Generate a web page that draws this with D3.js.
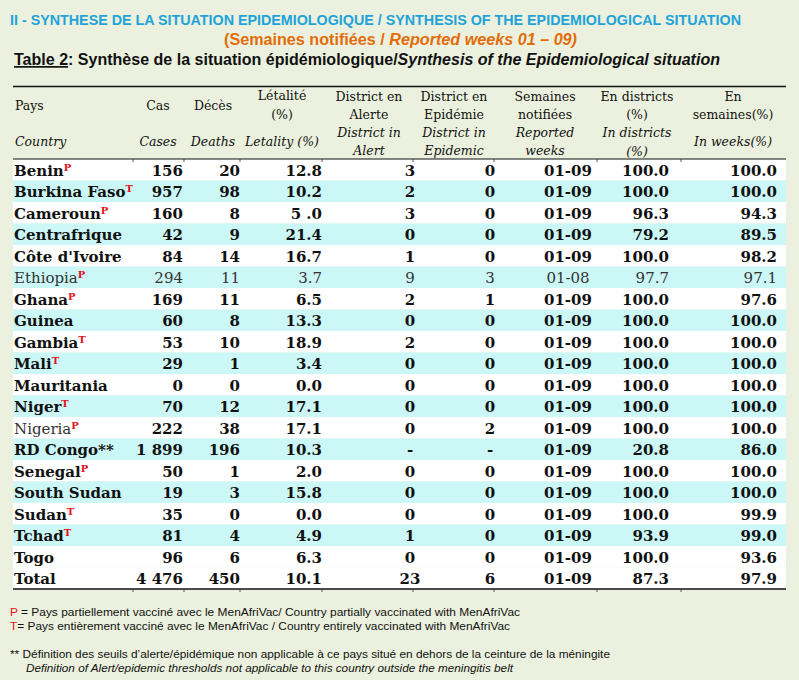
<!DOCTYPE html>
<html>
<head>
<meta charset="utf-8">
<script src="https://cdn.jsdelivr.net/npm/d3@7"></script>
<style>
  body { margin: 0; background: #ebf1de; }
  svg { display: block; }
</style>
</head>
<body>
<div id="container"></div>
<script>
// table data
var countries = ["Benin", "Burkina Faso", "Cameroun", "Centrafrique", "Côte d'Ivoire", "Ethiopia", "Ghana", "Guinea",
  "Gambia", "Mali", "Mauritania", "Niger", "Nigeria", "RD Congo", "Senegal", "South Sudan", "Sudan", "Tchad", "Togo", "Total"];
var marks = ["P", "T", "P", "", "", "P", "P", "", "T", "T", "", "T", "P", "**", "P", "", "T", "T", "", ""];
var cases = [156, 957, 160, 42, 84, 294, 169, 60, 53, 29, 0, 70, 222, 1899, 50, 19, 35, 81, 96, 4476];
var deaths = [20, 98, 8, 9, 14, 11, 11, 8, 10, 1, 0, 12, 38, 196, 1, 3, 0, 4, 6, 450];
var letality = ["12.8", "10.2", "5 .0", "21.4", "16.7", "3.7", "6.5", "13.3", "18.9", "3.4", "0.0", "17.1", "17.1", "10.3", "2.0", "15.8", "0.0", "4.9", "6.3", "10.1"];
var alertDistricts = ["3", "2", "3", "0", "1", "9", "2", "0", "2", "0", "0", "0", "0", "-", "0", "0", "0", "1", "0", "23"];
var epidemicDistricts = ["0", "0", "0", "0", "0", "3", "1", "0", "0", "0", "0", "0", "2", "-", "0", "0", "0", "0", "0", "6"];
var weeks = ["01-09", "01-09", "01-09", "01-09", "01-09", "01-08", "01-09", "01-09", "01-09", "01-09", "01-09", "01-09", "01-09", "01-09", "01-09", "01-09", "01-09", "01-09", "01-09", "01-09"];
var pctDistricts = [100.0, 100.0, 96.3, 79.2, 100.0, 97.7, 100.0, 100.0, 100.0, 100.0, 100.0, 100.0, 100.0, 20.8, 100.0, 100.0, 100.0, 93.9, 100.0, 87.3];
var pctWeeks = [100.0, 100.0, 94.3, 89.5, 98.2, 97.1, 97.6, 100.0, 100.0, 100.0, 100.0, 100.0, 100.0, 86.0, 100.0, 100.0, 99.9, 99.0, 93.6, 97.9];
// rows printed in regular weight (whole row / name only)
var regularRows = ["Ethiopia"];
var regularNames = ["Ethiopia", "Nigeria"];

var W = 799, H = 680;
var serif = "'DejaVu Serif', serif";
var sans = "'Liberation Sans Narrow', 'Liberation Sans', Arial, sans-serif";

var svg = d3.select("#container").append("svg").attr("width", W).attr("height", H);
svg.append("rect").attr("width", W).attr("height", H).attr("fill", "#ebf1de");

// titles
svg.append("text").attr("x", 10).attr("y", 25)
  .attr("font-family", sans).attr("font-weight", "bold").attr("font-size", 15)
  .attr("fill", "#1fa3d9").attr("textLength", 731).attr("lengthAdjust", "spacingAndGlyphs")
  .text("II - SYNTHESE DE LA SITUATION EPIDEMIOLOGIQUE / SYNTHESIS OF THE EPIDEMIOLOGICAL SITUATION");

var sub = svg.append("text").attr("x", 224).attr("y", 45)
  .attr("font-family", sans).attr("font-weight", "bold").attr("font-size", 16)
  .attr("fill", "#e36c0a").attr("textLength", 353).attr("lengthAdjust", "spacingAndGlyphs");
sub.append("tspan").text("(Semaines notifiées / ");
sub.append("tspan").attr("font-style", "italic").text("Reported weeks 01 – 09)");

var t2 = svg.append("text").attr("x", 14).attr("y", 65)
  .attr("font-family", sans).attr("font-weight", "bold").attr("font-size", 17)
  .attr("fill", "#111").attr("textLength", 706).attr("lengthAdjust", "spacingAndGlyphs");
t2.append("tspan").attr("text-decoration", "underline").text("Table 2");
t2.append("tspan").text(": Synthèse de la situation épidémiologique/");
t2.append("tspan").attr("font-style", "italic").text("Synthesis of the Epidemiological situation");

// layout scales
var tableLeft = 13, tableRight = 786;
var y = d3.scaleBand().domain(countries).range([159, 589]);
var bounds = [13, 133, 184, 240, 322, 413, 494, 597, 681, 786];

// row stripes
svg.selectAll("rect.row").data(countries).join("rect")
  .attr("class", "row")
  .attr("x", tableLeft).attr("width", tableRight - tableLeft)
  .attr("y", d => y(d)).attr("height", y.bandwidth())
  .attr("fill", (d, i) => (i % 2 === 1 && d !== "Total") ? "#ccf7f7" : "#ffffff");

// header
var headers = [
  { x: 15, anchor: "start", fr: [["Pays", 110]], en: [["Country", 146]] },
  { x: 158, anchor: "middle", fr: [["Cas", 110]], en: [["Cases", 146]] },
  { x: 213, anchor: "middle", fr: [["Décès", 110]], en: [["Deaths", 146]] },
  { x: 282, anchor: "middle", fr: [["Létalité", 100], ["(%)", 119]], en: [["Letality (%)", 146]] },
  { x: 369, anchor: "middle", fr: [["District en", 101], ["Alerte", 119]], en: [["District in", 137], ["Alert", 155]] },
  { x: 454, anchor: "middle", fr: [["District en", 101], ["Epidémie", 119]], en: [["District in", 137], ["Epidemic", 155]] },
  { x: 545, anchor: "middle", fr: [["Semaines", 101], ["notifiées", 119]], en: [["Reported", 137], ["weeks", 155]] },
  { x: 637, anchor: "middle", fr: [["En districts", 101], ["(%)", 119]], en: [["In districts", 137], ["(%)", 156]] },
  { x: 733, anchor: "middle", fr: [["En", 101], ["semaines(%)", 119]], en: [["In weeks(%)", 146]] }
];
headers.forEach(h => {
  h.fr.forEach(l => {
    svg.append("text").attr("x", h.x).attr("y", l[1]).attr("text-anchor", h.anchor)
      .attr("font-family", serif).attr("font-size", 12.5).attr("fill", "#111").text(l[0]);
  });
  h.en.forEach(l => {
    svg.append("text").attr("x", h.x).attr("y", l[1]).attr("text-anchor", h.anchor)
      .attr("font-family", serif).attr("font-style", "italic").attr("font-size", 12.5).attr("fill", "#111").text(l[0]);
  });
});

// number formats
var fmtInt = d3.formatLocale({ decimal: ".", thousands: " ", grouping: [3], currency: ["", ""] }).format(",d");
var fmt1 = d3.format(".1f");

// body columns
var columns = [
  { values: cases.map(fmtInt), x: 183, anchor: "end" },
  { values: deaths.map(String), x: 240, anchor: "end" },
  { values: letality, x: 322, anchor: "end" },
  { values: alertDistricts, x: 410, anchor: "middle" },
  { values: epidemicDistricts, x: 490, anchor: "middle" },
  { values: weeks, x: 568, anchor: "middle" },
  { values: pctDistricts.map(fmt1), x: 669, anchor: "end" },
  { values: pctWeeks.map(fmt1), x: 777, anchor: "end" }
];

var rowG = svg.selectAll("g.body").data(countries).join("g")
  .attr("class", "body")
  .attr("transform", d => `translate(0,${y(d) + 16.5})`);

// country names with marks
rowG.each(function (c, i) {
  var g = d3.select(this);
  var t = g.append("text").attr("x", 14)
    .attr("font-family", serif).attr("font-size", 15)
    .attr("font-weight", regularNames.includes(c) ? "normal" : "bold")
    .attr("fill", regularNames.includes(c) ? "#333" : "#111");
  t.append("tspan").text(c);
  if (marks[i] === "P" || marks[i] === "T") {
    t.append("tspan").attr("dy", -5).attr("font-size", 10).attr("font-weight", "bold")
      .attr("fill", "#e8101a").text(marks[i]);
  } else if (marks[i]) {
    t.append("tspan").text(marks[i]);
  }
  columns.forEach(col => {
    g.append("text").attr("x", col.x).attr("text-anchor", col.anchor)
      .attr("font-family", serif).attr("font-size", 15)
      .attr("font-weight", regularRows.includes(c) ? "normal" : "bold")
      .attr("fill", regularRows.includes(c) ? "#333" : "#111")
      .text(col.values[i]);
  });
});

// rules
svg.append("line").attr("x1", tableLeft).attr("x2", tableRight).attr("y1", 86.5).attr("y2", 86.5)
  .attr("stroke", "#111").attr("stroke-width", 1.5);
svg.append("line").attr("x1", tableLeft).attr("x2", tableRight).attr("y1", 159).attr("y2", 159)
  .attr("stroke", "#111").attr("stroke-width", 1.2);
svg.append("line").attr("x1", tableLeft).attr("x2", tableRight).attr("y1", 589).attr("y2", 589)
  .attr("stroke", "#111").attr("stroke-width", 1.5);
[159, 589].forEach(yy => {
  svg.selectAll(null).data(bounds.slice(1, -1)).join("line")
    .attr("x1", d => d).attr("x2", d => d).attr("y1", yy).attr("y2", yy + 3)
    .attr("stroke", "#333").attr("stroke-width", 0.8);
});

// footnotes
var notes = [
  { y: 616, x: 10, red: "P", text: " = Pays partiellement vacciné avec le MenAfriVac/ Country partially  vaccinated with MenAfriVac", len: 510 },
  { y: 630, x: 10, red: "T", text: "= Pays entièrement vacciné avec le MenAfriVac / Country entirely  vaccinated with MenAfriVac", len: 500 },
  { y: 658, x: 10, red: "", text: "**  Définition des seuils d’alerte/épidémique non applicable à ce pays situé en dehors de la ceinture de la méningite", len: 600 },
  { y: 672, x: 26, red: "", text: "Definition of Alert/epidemic thresholds not applicable to this country outside the meningitis belt", len: 487, italic: true }
];
notes.forEach(n => {
  var t = svg.append("text").attr("x", n.x).attr("y", n.y)
    .attr("font-family", sans).attr("font-size", 11.5).attr("fill", "#111")
    .attr("font-style", n.italic ? "italic" : "normal")
    .attr("textLength", n.len).attr("lengthAdjust", "spacingAndGlyphs");
  if (n.red) t.append("tspan").attr("fill", "#e8101a").text(n.red);
  t.append("tspan").text(n.text);
});
</script>
</body>
</html>
